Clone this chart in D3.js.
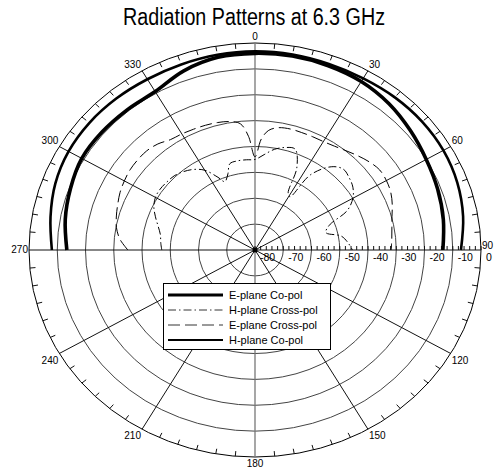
<!DOCTYPE html>
<html>
<head>
<meta charset="utf-8">
<script src="https://cdn.jsdelivr.net/npm/d3@7"></script>
<style>
  body { margin: 0; background: #fff; }
  text { font-family: "Liberation Sans", Arial, sans-serif; fill: #000; }
</style>
</head>
<body>
<div class="polar"></div>
<script>
let FRAME_WIDTH = 494;
let FRAME_HEIGHT = 474;
// plot is an ellipse (the original picture was stretched)
let CENTER = {x: 255, y: 250};
let RADIUS = {x: 226, y: 207};

// data: angle in degrees (clockwise from top), level in dB
let coAngles = [-90, -80, -70, -60, -50, -40, -30, -20, -10, 0, 10, 20, 30, 40, 50, 60, 70, 80, 90];
let eCoPol = [-13.4, -11.8, -10.5, -9.2, -9.2, -9.4, -9.3, -6.3, -4.4, -4.0, -3.9, -4.2, -4.8, -6.2, -8.2, -10.0, -11.2, -12.3, -13.5];
let hCoPol = [-8.1, -6.5, -4.8, -3.8, -3.5, -3.6, -3.8, -3.7, -3.4, -3.2, -3.3, -3.5, -3.4, -3.0, -2.8, -3.0, -3.8, -5.2, -7.1];

let eCrossAngles = [-90, -85, -80, -75, -70, -65, -60, -55, -50, -45, -40, -35, -30, -25, -20, -15, -10, -6, -3, 0, 3, 6, 10, 15, 20, 25, 30, 35, 40, 45, 50, 55, 60, 65, 70, 75, 80, 85, 90];
let eCrossPol = [-35, -32, -30.2, -29.2, -28.3, -27.3, -26.6, -26, -25.8, -25.8, -26.5, -27.9, -28.2, -28.5, -28.7, -29, -29.6, -31, -36, -44, -37, -33.5, -32, -31.6, -31.7, -31.7, -31.6, -31, -29.9, -28.5, -27.1, -26.1, -26.3, -27, -28.3, -29.8, -30.8, -31.4, -31.8];

let hCrossAngles = [-90, -85, -80, -75, -70, -65, -60, -55, -50, -45, -40, -35, -30, -25, -22, -18, -15, -10, -5, 0, 5, 10, 15, 20, 25, 28, 31, 34, 40, 45, 50, 55, 60, 65, 70, 75, 80, 85, 90];
let hCrossPol = [-47, -46.5, -46, -44.5, -42.5, -40.5, -39.3, -39, -39.2, -39.5, -40.5, -42, -44.4, -49, -51.5, -49, -45.5, -45, -45, -45, -43, -40.5, -39, -38.5, -45, -55, -56, -45, -38, -35.8, -36.5, -37.7, -40, -44, -52, -54, -49, -47, -45.5];

let ringValues = [-70, -60, -50, -40, -30, -20, -10, 0];
let ringLabels = [-80, -70, -60, -50, -40, -30, -20, -10, 0];
let spokeAngles = [0, 30, 60, 90, 120, 150, 180, 210, 240, 270, 300, 330];

let legendNames = ["E-plane Co-pol", "H-plane Cross-pol", "E-plane Cross-pol", "H-plane Co-pol"];

let FRAME = d3.select('.polar')
              .append("svg")
              .attr("width", FRAME_WIDTH)
              .attr("height", FRAME_HEIGHT);

// radial scale: dB -> fraction of outer radius
const R_SCALE = d3.scaleLinear().domain([-80, 0]).range([0, 1]).clamp(true);

function px(deg, t) { return CENTER.x + t * RADIUS.x * Math.sin(deg * Math.PI / 180); }
function py(deg, t) { return CENTER.y - t * RADIUS.y * Math.cos(deg * Math.PI / 180); }

// title
FRAME.append("text")
     .attr("x", 254).attr("y", 25)
     .attr("text-anchor", "middle")
     .attr("font-size", "23px")
     .attr("textLength", 262)
     .attr("lengthAdjust", "spacingAndGlyphs")
     .text("Radiation Patterns at 6.3 GHz");

// rings
FRAME.selectAll(".ring")
     .data(ringValues)
     .enter()
     .append("ellipse")
       .attr("cx", CENTER.x).attr("cy", CENTER.y)
       .attr("rx", (d) => R_SCALE(d) * RADIUS.x)
       .attr("ry", (d) => R_SCALE(d) * RADIUS.y)
       .attr("fill", "none")
       .attr("stroke", (d) => d == 0 ? "#000" : "#444")
       .attr("stroke-width", 1);

// spokes
FRAME.selectAll(".spoke")
     .data(spokeAngles)
     .enter()
     .append("line")
       .attr("x1", CENTER.x).attr("y1", CENTER.y)
       .attr("x2", (d) => px(d, 1)).attr("y2", (d) => py(d, 1))
       .attr("stroke", (d) => (d % 180 == 0) ? "#777" : "#111")
       .attr("stroke-width", (d) => (d % 180 == 0) ? 1.3 : 1);

// 5 degree ticks on the outer ellipse (pointing inward)
let minorAngles = d3.range(0, 360, 5).filter((d) => d % 30 != 0);
FRAME.selectAll(".atick")
     .data(minorAngles)
     .enter()
     .append("line")
       .attr("x1", (d) => px(d, 1)).attr("y1", (d) => py(d, 1))
       .attr("x2", (d) => px(d, 0.975)).attr("y2", (d) => py(d, 0.975))
       .attr("stroke", "#111");

// angle labels
FRAME.selectAll(".alabel")
     .data(spokeAngles)
     .enter()
     .append("text")
       .attr("font-size", "10px")
       .attr("x", (d) => {
           let s = Math.sin(d * Math.PI / 180);
           return px(d, 1) + (Math.abs(s) < 0.01 ? 0 : (s > 0 ? 1 : -1));
       })
       .attr("y", (d) => {
           let c = Math.cos(d * Math.PI / 180);
           if (Math.abs(c) < 0.01) return py(d, 1) + (d == 90 ? -4 : 0);
           return py(d, 1) + (c > 0 ? -3 : 3);
       })
       .attr("text-anchor", (d) => {
           let s = Math.sin(d * Math.PI / 180);
           return Math.abs(s) < 0.01 ? "middle" : (s > 0 ? "start" : "end");
       })
       .attr("dominant-baseline", (d) => {
           let c = Math.cos(d * Math.PI / 180);
           return Math.abs(c) < 0.01 ? "middle" : (c > 0 ? "auto" : "hanging");
       })
       .text((d) => d);

// radial axis ticks every 2 dB along the 90 degree spoke
FRAME.selectAll(".rtick")
     .data(d3.range(-80, 1, 2))
     .enter()
     .append("line")
       .attr("x1", (d) => CENTER.x + R_SCALE(d) * RADIUS.x)
       .attr("x2", (d) => CENTER.x + R_SCALE(d) * RADIUS.x)
       .attr("y1", CENTER.y - 4).attr("y2", CENTER.y)
       .attr("stroke", "#111");

FRAME.selectAll(".rlabel")
     .data(ringLabels)
     .enter()
     .append("text")
       .attr("font-size", "10.5px")
       .attr("x", (d) => CENTER.x + R_SCALE(d) * RADIUS.x + 5)
       .attr("y", CENTER.y + 11)
       .text((d) => d);

FRAME.append("circle")
     .attr("cx", CENTER.x).attr("cy", CENTER.y).attr("r", 2.5)
     .attr("fill", "#000");

// pattern curves
function curvePath(angles, values) {
    let pts = angles.map((a, i) => [px(a, R_SCALE(values[i])), py(a, R_SCALE(values[i]))]);
    return d3.line().curve(d3.curveCatmullRom.alpha(0.5))(pts);
}

let series = [
    {angles: coAngles, values: eCoPol, width: 3.6, dash: "none"},
    {angles: hCrossAngles, values: hCrossPol, width: 1, dash: "8,3,1.5,3"},
    {angles: eCrossAngles, values: eCrossPol, width: 1, dash: "12,5"},
    {angles: coAngles, values: hCoPol, width: 2.6, dash: "none"}
];

series.forEach((s) => {
    FRAME.append("path")
         .attr("d", curvePath(s.angles, s.values))
         .attr("fill", "none")
         .attr("stroke", "#000")
         .attr("stroke-width", s.width)
         .attr("stroke-dasharray", s.dash);
});

// legend
let LEGEND = FRAME.append("g");
LEGEND.append("rect")
      .attr("x", 163.5).attr("y", 283.5)
      .attr("width", 167).attr("height", 66)
      .attr("fill", "#fff").attr("stroke", "#000");

let rows = LEGEND.selectAll(".row")
                 .data(series)
                 .enter()
                 .append("g")
                 .attr("transform", (d, i) => "translate(0," + (295 + i * 15) + ")");
rows.append("line")
    .attr("x1", 168).attr("x2", 223)
    .attr("y1", 0).attr("y2", 0)
    .attr("stroke", "#000")
    .attr("stroke-width", (d) => d.width * 0.8)
    .attr("stroke-dasharray", (d) => d.dash);
rows.append("text")
    .attr("x", 229).attr("y", 4)
    .attr("font-size", "11px")
    .text((d, i) => legendNames[i]);
</script>
</body>
</html>
